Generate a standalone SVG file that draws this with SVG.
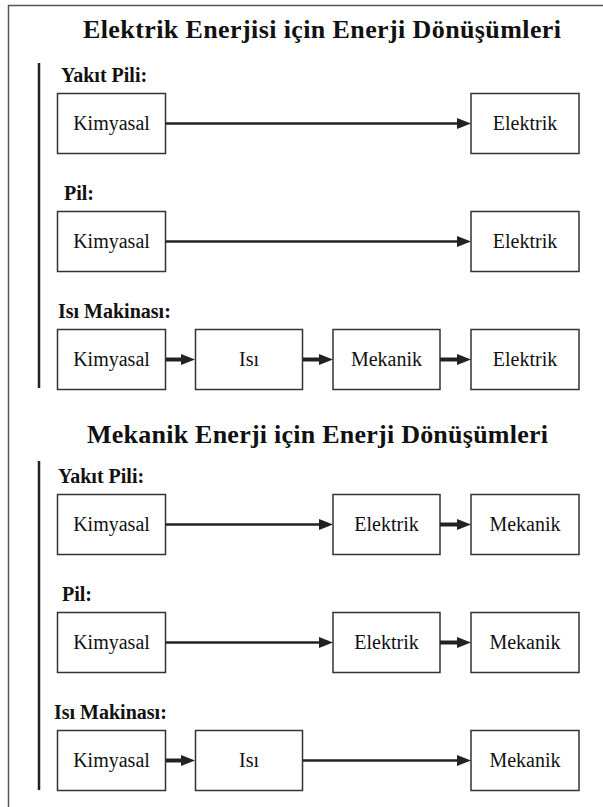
<svg xmlns="http://www.w3.org/2000/svg" width="603" height="807" viewBox="0 0 603 807">
<style>
  .frame{fill:none;stroke:#555;stroke-width:1.5}
  .bar{stroke:#222;stroke-width:2.5}
  .box{fill:#fff;stroke:#333;stroke-width:1.5}
  text{font-family:'Liberation Serif','Times New Roman',Times,'DejaVu Serif','Noto Serif',serif}
  .bt{font-size:20px;fill:#111;text-anchor:middle}
  .lbl{font-size:20px;font-weight:bold;fill:#111}
  .ttl{font-size:26px;font-weight:bold;fill:#111}
  .long{stroke:#222;stroke-width:2.5;fill:none}
  .short{stroke:#222;stroke-width:4;fill:none}
</style>
<defs>
  <marker id="ah" viewBox="0 0 14 11" markerWidth="14" markerHeight="11" refX="2" refY="5.5" orient="auto" markerUnits="userSpaceOnUse">
    <path d="M0,0 L14,5.5 L0,11 z" fill="#222"/>
  </marker>
</defs>
<rect width="603" height="807" fill="#fff"/>
<path class="frame" d="M8.5,807 V5.5 H603"/>
<g id="section1">
  <text class="ttl" x="83" y="38" textLength="478">Elektrik Enerjisi için Enerji Dönüşümleri</text>
  <line class="bar" x1="39" y1="63" x2="39" y2="388"/>
  <text class="lbl" x="61" y="82">Yakıt Pili:</text>
  <text class="lbl" x="64" y="200">Pil:</text>
  <text class="lbl" x="58" y="318">Isı Makinası:</text>
</g>
<g id="section2">
  <text class="ttl" x="87" y="443" textLength="461">Mekanik Enerji için Enerji Dönüşümleri</text>
  <line class="bar" x1="39" y1="461" x2="39" y2="790"/>
  <text class="lbl" x="58" y="483">Yakıt Pili:</text>
  <text class="lbl" x="62" y="601">Pil:</text>
  <text class="lbl" x="54" y="719">Isı Makinası:</text>
</g>
<g id="n1a"><rect class="box" x="57.5" y="93.5" width="108" height="60"/><text class="bt" x="111.5" y="130">Kimyasal</text></g>
<g id="n1b"><rect class="box" x="471" y="93.5" width="108" height="60"/><text class="bt" x="525" y="130">Elektrik</text></g>
<g id="n2a"><rect class="box" x="57.5" y="211.5" width="108" height="60"/><text class="bt" x="111.5" y="248">Kimyasal</text></g>
<g id="n2b"><rect class="box" x="471" y="211.5" width="108" height="60"/><text class="bt" x="525" y="248">Elektrik</text></g>
<g id="n3a"><rect class="box" x="57.5" y="329.5" width="108" height="60"/><text class="bt" x="111.5" y="366">Kimyasal</text></g>
<g id="n3b"><rect class="box" x="195.5" y="329.5" width="107" height="60"/><text class="bt" x="249" y="366">Isı</text></g>
<g id="n3c"><rect class="box" x="333" y="329.5" width="107" height="60"/><text class="bt" x="386.5" y="366">Mekanik</text></g>
<g id="n3d"><rect class="box" x="471" y="329.5" width="108" height="60"/><text class="bt" x="525" y="366">Elektrik</text></g>
<g id="n4a"><rect class="box" x="57.5" y="494.5" width="108" height="60"/><text class="bt" x="111.5" y="531">Kimyasal</text></g>
<g id="n4b"><rect class="box" x="333" y="494.5" width="107" height="60"/><text class="bt" x="386.5" y="531">Elektrik</text></g>
<g id="n4c"><rect class="box" x="471" y="494.5" width="108" height="60"/><text class="bt" x="525" y="531">Mekanik</text></g>
<g id="n5a"><rect class="box" x="57.5" y="612.5" width="108" height="60"/><text class="bt" x="111.5" y="649">Kimyasal</text></g>
<g id="n5b"><rect class="box" x="333" y="612.5" width="107" height="60"/><text class="bt" x="386.5" y="649">Elektrik</text></g>
<g id="n5c"><rect class="box" x="471" y="612.5" width="108" height="60"/><text class="bt" x="525" y="649">Mekanik</text></g>
<g id="n6a"><rect class="box" x="57.5" y="730.5" width="108" height="60"/><text class="bt" x="111.5" y="767">Kimyasal</text></g>
<g id="n6b"><rect class="box" x="195.5" y="730.5" width="107" height="60"/><text class="bt" x="249" y="767">Isı</text></g>
<g id="n6c"><rect class="box" x="471" y="730.5" width="108" height="60"/><text class="bt" x="525" y="767">Mekanik</text></g>
<g id="connectors">
  <line class="long" x1="166" y1="123.5" x2="459" y2="123.5" marker-end="url(#ah)"/>
  <line class="long" x1="166" y1="241.5" x2="459" y2="241.5" marker-end="url(#ah)"/>
  <line class="short" x1="166" y1="359.5" x2="183" y2="359.5" marker-end="url(#ah)"/>
  <line class="short" x1="303" y1="359.5" x2="321" y2="359.5" marker-end="url(#ah)"/>
  <line class="short" x1="440" y1="359.5" x2="459" y2="359.5" marker-end="url(#ah)"/>
  <line class="long" x1="166" y1="524.5" x2="321" y2="524.5" marker-end="url(#ah)"/>
  <line class="short" x1="440" y1="524.5" x2="459" y2="524.5" marker-end="url(#ah)"/>
  <line class="long" x1="166" y1="642.5" x2="321" y2="642.5" marker-end="url(#ah)"/>
  <line class="short" x1="440" y1="642.5" x2="459" y2="642.5" marker-end="url(#ah)"/>
  <line class="short" x1="166" y1="760.5" x2="183" y2="760.5" marker-end="url(#ah)"/>
  <line class="long" x1="303" y1="760.5" x2="459" y2="760.5" marker-end="url(#ah)"/>
</g>
</svg>
